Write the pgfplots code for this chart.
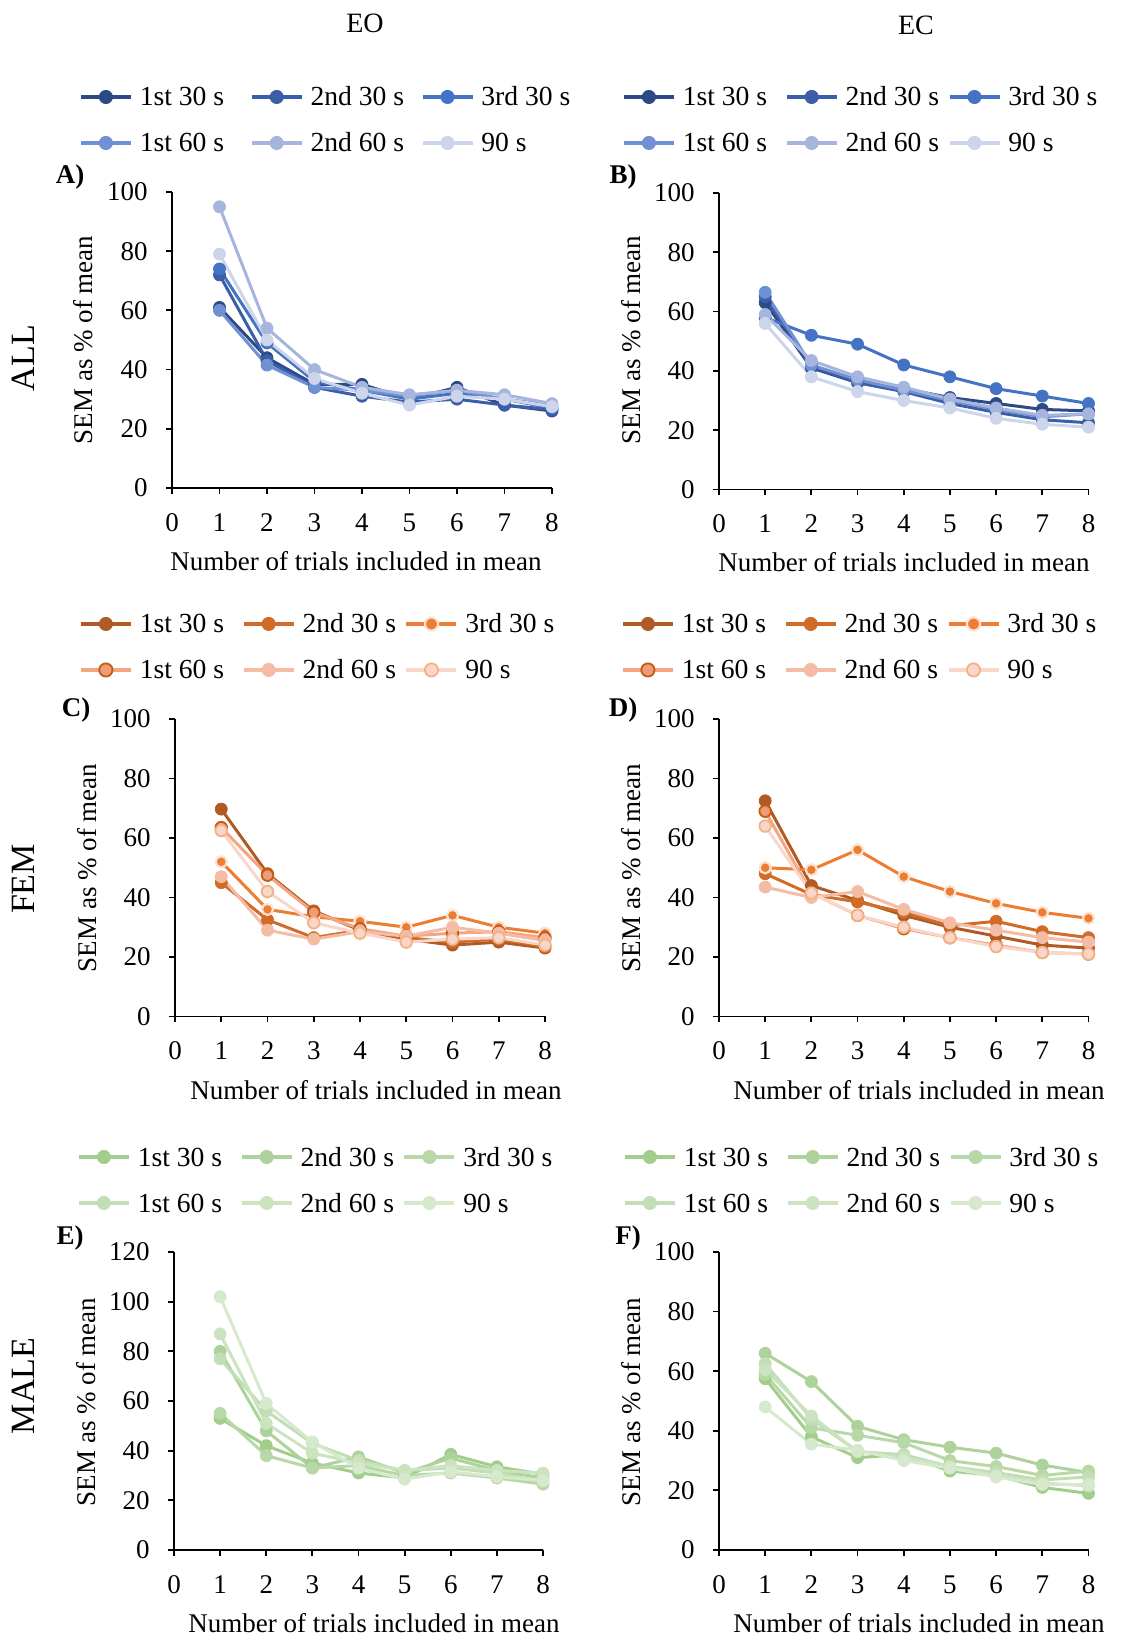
\documentclass[border=0pt]{standalone}
\usepackage{pgfplots}
\pgfplotsset{compat=1.18}
\usepackage{fontspec}
\setmainfont{Liberation Serif}

\definecolor{b1}{HTML}{2E4A86}
\definecolor{b2}{HTML}{3A5EA8}
\definecolor{b3}{HTML}{4472C4}
\definecolor{b4}{HTML}{7090D4}
\definecolor{b5}{HTML}{A6B5DD}
\definecolor{b6}{HTML}{CDD5EB}
\definecolor{o1}{HTML}{B05A24}
\definecolor{o2}{HTML}{D06B28}
\definecolor{o3}{HTML}{ED7D31}
\definecolor{o3h}{HTML}{FBE3D4}
\definecolor{o4}{HTML}{F4A582}
\definecolor{o4f}{HTML}{EE9C78}
\definecolor{o4e}{HTML}{C55A11}
\definecolor{o5}{HTML}{F4BCA5}
\definecolor{o6}{HTML}{F8D7CA}
\definecolor{o6e}{HTML}{F4B183}
\definecolor{g1}{HTML}{A2CD8A}
\definecolor{g2}{HTML}{ADD29B}
\definecolor{g3}{HTML}{B8D8A8}
\definecolor{g4}{HTML}{C2DEB4}
\definecolor{g5}{HTML}{CCE3C0}
\definecolor{g6}{HTML}{D6E9CD}

\newcommand{\tfont}{\fontsize{13.5}{14}\selectfont}
\newcommand{\lfont}{\fontsize{13.8}{14}\selectfont}

\pgfplotsset{
  panel/.style={
    scale only axis, axis lines=left, axis line style={-, line width=0.9pt},
    xmin=0, xmax=8, xtick={0,...,8}, ymin=0,
    tick align=outside, major tick length=3pt,
    tick style={line width=0.9pt, black},
    ticklabel style={font=\tfont, inner sep=0pt},
    xticklabel shift=9.5pt, yticklabel shift=9pt,
    /pgf/number format/assume math mode=true,
    clip=false,
    legend columns=3,
    legend cell align=left,
    legend style={draw=none, fill=none, inner sep=0pt, outer sep=0pt,
      row sep=13pt, anchor=north west, font=\lfont,
      nodes={inner sep=0pt, text height=9.5pt, text depth=0.5pt},
      /tikz/every odd column/.append style={column sep=3.5pt}},
    legend image post style={mark size=3.3pt},
    legend image code/.code={\draw[line width=1.9pt, mark repeat=2, mark phase=2]
      plot coordinates {(0pt,0pt) (12.5pt,0pt) (25pt,0pt)};},
  },
  ser/.style={color=#1, line width=1.5pt, mark=*, mark size=3pt,
    mark options={solid, fill=#1, draw=#1, line width=0.4pt}},
  oth/.style={color=o3, line width=1.5pt, mark=*, mark size=2.8pt,
    mark options={solid, fill=o3, draw=o3h, line width=1.1pt}},
  ofo/.style={color=o4, line width=1.5pt, mark=*, mark size=2.9pt,
    mark options={solid, fill=o4f, draw=o4e, line width=0.9pt}},
  osi/.style={color=o6, line width=1.5pt, mark=*, mark size=2.9pt,
    mark options={solid, fill=o6, draw=o6e, line width=0.9pt}},
}
\newcommand{\LEa}[1]{\addlegendentry{\makebox[55pt][l]{#1}}}
\newcommand{\LEb}[1]{\addlegendentry{\makebox[51pt][l]{#1}}}

\begin{document}
\begin{tikzpicture}
\path[use as bounding box] (0,0) rectangle (562.5pt,818pt);

% ---------- A) EO ALL ----------
\begin{axis}[panel, at={(86pt,574pt)}, anchor=south west,
  width=190pt, height=148pt, ymax=100, ytick={0,20,...,100},
  legend style={at={(-0.2447,1.3547)}}]
\addplot[ser=b1] coordinates {(1,61) (2,44) (3,35) (4,35) (5,30) (6,34) (7,28) (8,26)};
\addplot[ser=b2] coordinates {(1,72) (2,43) (3,34) (4,31) (5,29) (6,30) (7,28) (8,26.5)};
\addplot[ser=b3] coordinates {(1,74) (2,49) (3,36) (4,33) (5,30) (6,32) (7,30) (8,27)};
\addplot[ser=b4] coordinates {(1,60) (2,41.5) (3,34) (4,33) (5,31) (6,33) (7,30) (8,28)};
\addplot[ser=b5] coordinates {(1,95) (2,54) (3,40) (4,34) (5,31.5) (6,33) (7,31.5) (8,28.5)};
\addplot[ser=b6] coordinates {(1,79) (2,50) (3,37) (4,32) (5,28) (6,31) (7,30) (8,27.5)};
\LEa{1st 30 s}\LEa{2nd 30 s}\LEa{3rd 30 s}\LEa{1st 60 s}\LEa{2nd 60 s}\LEa{90 s}
\end{axis}

% ---------- B) EC ALL ----------
\begin{axis}[panel, at={(359.5pt,573.25pt)}, anchor=south west,
  width=184.75pt, height=148.25pt, ymax=100, ytick={0,20,...,100},
  legend style={at={(-0.2625,1.3575)}}]
\addplot[ser=b1] coordinates {(1,63) (2,41) (3,36) (4,34) (5,31) (6,29) (7,27) (8,26.5)};
\addplot[ser=b2] coordinates {(1,65) (2,41.5) (3,36) (4,33) (5,29) (6,26) (7,23.5) (8,22.5)};
\addplot[ser=b3] coordinates {(1,58) (2,52) (3,49) (4,42) (5,38) (6,34) (7,31.5) (8,29)};
\addplot[ser=b4] coordinates {(1,66.5) (2,42) (3,37) (4,33.5) (5,30) (6,27) (7,24.5) (8,25.5)};
\addplot[ser=b5] coordinates {(1,59) (2,43.5) (3,38) (4,34.5) (5,30.5) (6,27.5) (7,25) (8,25.5)};
\addplot[ser=b6] coordinates {(1,56) (2,38) (3,33) (4,30) (5,27.5) (6,24) (7,22) (8,21)};
\LEb{1st 30 s}\LEb{2nd 30 s}\LEb{3rd 30 s}\LEb{1st 60 s}\LEb{2nd 60 s}\LEb{90 s}
\end{axis}

% ---------- C) EO FEM ----------
\begin{axis}[panel, at={(87.5pt,309.75pt)}, anchor=south west,
  width=185pt, height=148.75pt, ymax=100, ytick={0,20,...,100},
  legend style={at={(-0.2595,1.353)}}]
\addplot[ser=o1] coordinates {(1,69.7) (2,48) (3,35.5) (4,29) (5,26) (6,24) (7,25) (8,23)};
\addplot[ser=o2] coordinates {(1,45) (2,32.5) (3,26.5) (4,29) (5,26.5) (6,25) (7,26) (8,23.5)};
\addplot[oth] coordinates {(1,52) (2,36) (3,33.5) (4,32) (5,30) (6,34) (7,30) (8,28)};
\addplot[ofo] coordinates {(1,63.5) (2,47.5) (3,35) (4,29.5) (5,27) (6,28) (7,28.5) (8,26.5)};
\addplot[ser=o5] coordinates {(1,47) (2,29) (3,26) (4,28.5) (5,27) (6,30) (7,28) (8,25.5)};
\addplot[osi] coordinates {(1,62.5) (2,42) (3,31.5) (4,28) (5,25) (6,26) (7,26.5) (8,24)};
\LEb{1st 30 s}\LEb{2nd 30 s}\LEb{3rd 30 s}\LEb{1st 60 s}\LEb{2nd 60 s}\LEb{90 s}
\end{axis}

% ---------- D) EC FEM ----------
\begin{axis}[panel, at={(359.5pt,309.75pt)}, anchor=south west,
  width=184.75pt, height=148.75pt, ymax=100, ytick={0,20,...,100},
  legend style={at={(-0.2652,1.353)}}]
\addplot[ser=o1] coordinates {(1,72.5) (2,44) (3,39) (4,34) (5,30) (6,27) (7,24) (8,23)};
\addplot[ser=o2] coordinates {(1,48) (2,41) (3,38.5) (4,35) (5,30.5) (6,32) (7,28.5) (8,26.5)};
\addplot[oth] coordinates {(1,50) (2,49.3) (3,56) (4,47) (5,42) (6,38) (7,35) (8,33)};
\addplot[ofo] coordinates {(1,69) (2,41.5) (3,34) (4,29.5) (5,26.5) (6,24) (7,21.5) (8,21)};
\addplot[ser=o5] coordinates {(1,43.5) (2,40) (3,42) (4,36) (5,31.5) (6,29) (7,26.5) (8,25)};
\addplot[osi] coordinates {(1,64) (2,41.5) (3,34) (4,30) (5,26.5) (6,23.5) (7,21.5) (8,21)};
\LEb{1st 30 s}\LEb{2nd 30 s}\LEb{3rd 30 s}\LEb{1st 60 s}\LEb{2nd 60 s}\LEb{90 s}
\end{axis}

% ---------- E) EO MALE ----------
\begin{axis}[panel, at={(87pt,43pt)}, anchor=south west,
  width=184.5pt, height=149pt, ymax=120, ytick={0,20,...,120},
  legend style={at={(-0.2629,1.3523)}}]
\addplot[ser=g1] coordinates {(1,53) (2,42) (3,35) (4,31) (5,29) (6,38.5) (7,33.5) (8,30.5)};
\addplot[ser=g2] coordinates {(1,80) (2,48) (3,33) (4,37.5) (5,31) (6,37) (7,32) (8,29)};
\addplot[ser=g3] coordinates {(1,55) (2,38) (3,33) (4,34) (5,30) (6,31) (7,29) (8,26.5)};
\addplot[ser=g4] coordinates {(1,77) (2,56) (3,43) (4,36) (5,32) (6,33) (7,31) (8,27.5)};
\addplot[ser=g5] coordinates {(1,87) (2,51) (3,39) (4,35) (5,32) (6,34) (7,32) (8,31)};
\addplot[ser=g6] coordinates {(1,102) (2,59) (3,43.5) (4,33) (5,28.5) (6,31.5) (7,29.5) (8,28)};
\LEb{1st 30 s}\LEb{2nd 30 s}\LEb{3rd 30 s}\LEb{1st 60 s}\LEb{2nd 60 s}\LEb{90 s}
\end{axis}

% ---------- F) EC MALE ----------
\begin{axis}[panel, at={(359.5pt,43pt)}, anchor=south west,
  width=184.75pt, height=149pt, ymax=100, ytick={0,20,...,100},
  legend style={at={(-0.2598,1.3523)}}]
\addplot[ser=g1] coordinates {(1,57.5) (2,38) (3,31) (4,32) (5,26.5) (6,25) (7,21) (8,19)};
\addplot[ser=g2] coordinates {(1,66) (2,56.5) (3,41.5) (4,37) (5,34.5) (6,32.5) (7,28.5) (8,26)};
\addplot[ser=g3] coordinates {(1,59) (2,41) (3,38.5) (4,36) (5,30) (6,28) (7,25) (8,26.5)};
\addplot[ser=g4] coordinates {(1,62.5) (2,44) (3,33) (4,32) (5,28) (6,26) (7,23.5) (8,24.5)};
\addplot[ser=g5] coordinates {(1,60.5) (2,45) (3,33) (4,31) (5,28) (6,25) (7,22.5) (8,21.5)};
\addplot[ser=g6] coordinates {(1,48) (2,35.5) (3,33.5) (4,30) (5,27.5) (6,24.5) (7,22) (8,22)};
\LEb{1st 30 s}\LEb{2nd 30 s}\LEb{3rd 30 s}\LEb{1st 60 s}\LEb{2nd 60 s}\LEb{90 s}
\end{axis}

% ---------- texts (pixel coordinates, origin top-left) ----------
\begin{scope}[yshift=818pt, x=0.5pt, y=-0.5pt]
\node[font=\fontsize{14}{16}\selectfont] at (365,23) {EO};
\node[font=\fontsize{14}{16}\selectfont] at (916,25) {EC};
\node[font=\fontsize{17}{18}\selectfont, rotate=90] at (23,358) {ALL};
\node[font=\fontsize{17}{18}\selectfont, rotate=90] at (23,879) {FEM};
\node[font=\fontsize{17}{18}\selectfont, rotate=90] at (23,1386) {MALE};
\node[font=\fontsize{13.5}{14}\selectfont\bfseries] at (70,177) {A)};
\node[font=\fontsize{13.5}{14}\selectfont\bfseries] at (623,177) {B)};
\node[font=\fontsize{13.5}{14}\selectfont\bfseries] at (76,710) {C)};
\node[font=\fontsize{13.5}{14}\selectfont\bfseries] at (623,710) {D)};
\node[font=\fontsize{13.5}{14}\selectfont\bfseries] at (70,1238) {E)};
\node[font=\fontsize{13.5}{14}\selectfont\bfseries] at (628,1238) {F)};
\foreach \x/\y in {83/340, 631/340, 87/868, 631/868, 86/1402, 631/1402}
  \node[font=\tfont, rotate=90] at (\x,\y) {SEM as \% of mean};
\foreach \x/\y in {356/561, 904/562, 376/1090, 919/1090, 374/1623, 919/1623}
  \node[font=\tfont] at (\x,\y) {Number of trials included in mean};
\end{scope}
\end{tikzpicture}
\end{document}
